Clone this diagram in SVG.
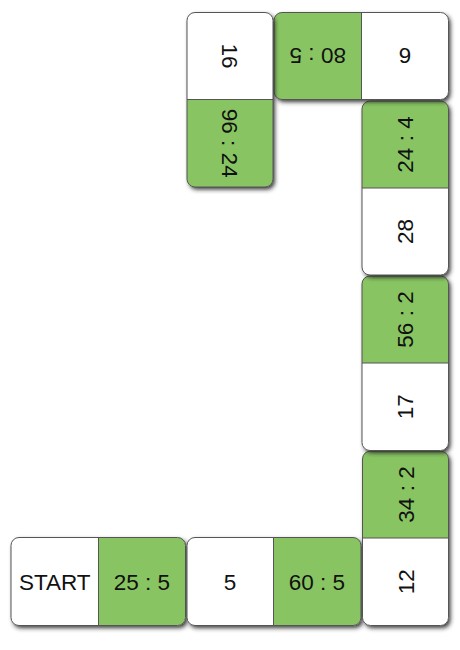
<svg xmlns="http://www.w3.org/2000/svg" width="460" height="650" viewBox="0 0 460 650">
<style>
.base{fill:#fff}
.green{fill:#88c562}
.edge{fill:none;stroke:#555;stroke-width:1}
.div{stroke:#555;stroke-width:1}
text{font-family:"Liberation Sans",Arial,sans-serif;font-size:22.5px;fill:#111;text-anchor:middle}
</style>
<defs>
<filter id="sh" x="-10%" y="-10%" width="125%" height="125%">
<feDropShadow dx="2" dy="2.5" stdDeviation="2" flood-color="#222" flood-opacity="0.9"/>
</filter>
</defs>
<g id="connectors"></g>
<g id="domino-start">
<rect class="base" x="11" y="537.5" width="174.5" height="88" rx="8" filter="url(#sh)"/>
<path class="green" d="M98.5,537.5 H177.5 A8,8 0 0 1 185.5,545.5 V617.5 A8,8 0 0 1 177.5,625.5 H98.5 Z"/>
<line class="div" x1="98.5" y1="537.5" x2="98.5" y2="625.5"/>
<rect class="edge" x="11" y="537.5" width="174.5" height="88" rx="8"/>
<text x="54.75" y="589.5">START</text>
<text x="142" y="589.5">25 : 5</text>
</g>
<g id="domino-5">
<rect class="base" x="187" y="537.5" width="174" height="88" rx="8" filter="url(#sh)"/>
<path class="green" d="M273.5,537.5 H353 A8,8 0 0 1 361,545.5 V617.5 A8,8 0 0 1 353,625.5 H273.5 Z"/>
<line class="div" x1="273.5" y1="537.5" x2="273.5" y2="625.5"/>
<rect class="edge" x="187" y="537.5" width="174" height="88" rx="8"/>
<text x="230" y="589.5">5</text>
<text x="317" y="589.5">60 : 5</text>
</g>
<g id="domino-12">
<rect class="base" x="362.5" y="451" width="86" height="174.5" rx="8" filter="url(#sh)"/>
<path class="green" d="M362.5,538 V459 A8,8 0 0 1 370.5,451 H440.5 A8,8 0 0 1 448.5,459 V538 Z"/>
<line class="div" x1="362.5" y1="538" x2="448.5" y2="538"/>
<rect class="edge" x="362.5" y="451" width="86" height="174.5" rx="8"/>
<text transform="translate(405.5,494.5) rotate(-90)" y="8">34 : 2</text>
<text transform="translate(405.5,581.75) rotate(-90)" y="8">12</text>
</g>
<g id="domino-17">
<rect class="base" x="362" y="276" width="86.5" height="174.5" rx="8" filter="url(#sh)"/>
<path class="green" d="M362,363 V284 A8,8 0 0 1 370,276 H440.5 A8,8 0 0 1 448.5,284 V363 Z"/>
<line class="div" x1="362" y1="363" x2="448.5" y2="363"/>
<rect class="edge" x="362" y="276" width="86.5" height="174.5" rx="8"/>
<text transform="translate(405.25,319.5) rotate(-90)" y="8">56 : 2</text>
<text transform="translate(405.25,406.75) rotate(-90)" y="8">17</text>
</g>
<g id="domino-28">
<rect class="base" x="362" y="101" width="86.5" height="174" rx="8" filter="url(#sh)"/>
<path class="green" d="M362,188 V109 A8,8 0 0 1 370,101 H440.5 A8,8 0 0 1 448.5,109 V188 Z"/>
<line class="div" x1="362" y1="188" x2="448.5" y2="188"/>
<rect class="edge" x="362" y="101" width="86.5" height="174" rx="8"/>
<text transform="translate(405.25,144.5) rotate(-90)" y="8">24 : 4</text>
<text transform="translate(405.25,231.5) rotate(-90)" y="8">28</text>
</g>
<g id="domino-6">
<rect class="base" x="274" y="12.5" width="174.5" height="87" rx="8" filter="url(#sh)"/>
<path class="green" d="M361.5,12.5 H282 A8,8 0 0 0 274,20.5 V91.5 A8,8 0 0 0 282,99.5 H361.5 Z"/>
<line class="div" x1="361.5" y1="12.5" x2="361.5" y2="99.5"/>
<rect class="edge" x="274" y="12.5" width="174.5" height="87" rx="8"/>
<text transform="translate(317.75,56) rotate(180)" y="8">80 : 5</text>
<text transform="translate(405,56) rotate(180)" y="8">6</text>
</g>
<g id="domino-16">
<rect class="base" x="187" y="12.5" width="86" height="174.5" rx="8" filter="url(#sh)"/>
<path class="green" d="M187,99.5 V179 A8,8 0 0 0 195,187 H265 A8,8 0 0 0 273,179 V99.5 Z"/>
<line class="div" x1="187" y1="99.5" x2="273" y2="99.5"/>
<rect class="edge" x="187" y="12.5" width="86" height="174.5" rx="8"/>
<text transform="translate(230,56) rotate(90)" y="8">16</text>
<text transform="translate(230,143.25) rotate(90)" y="8">96 : 24</text>
</g>
</svg>
